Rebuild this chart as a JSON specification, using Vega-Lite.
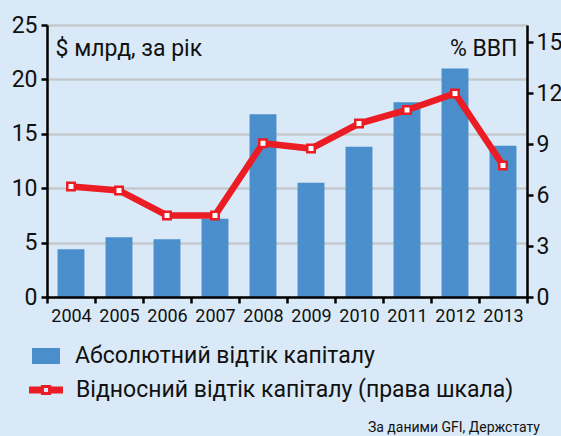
{
  "$schema": "https://vega.github.io/schema/vega-lite/v6.json",
  "width": 480,
  "height": 272,
  "autosize": "none",
  "padding": {"left": 47, "top": 25, "right": 34, "bottom": 139},
  "background": "#d9e9f7",
  "config": {
    "view": {"stroke": null},
    "font": "Roboto",
    "axis": {"domainColor": "#000000", "domainWidth": 2.5, "tickColor": "#000000", "tickWidth": 2.5, "labelColor": "#111111", "titleColor": "#111111", "titleFontWeight": "normal"},
    "legend": {"padding": 0, "labelColor": "#111111", "labelFont": "Roboto", "labelFontSize": 23, "labelLimit": 0, "title": null}
  },
  "title": {"text": "За даними GFI, Держстату", "orient": "bottom", "anchor": "end", "frame": "group", "fontSize": 14, "fontWeight": "normal", "color": "#111111", "offset": 19, "dx": 13},
  "data": {"values": [
    {"year": "2004", "abs": 4.4, "rel": 6.5},
    {"year": "2005", "abs": 5.5, "rel": 6.27},
    {"year": "2006", "abs": 5.3, "rel": 4.8},
    {"year": "2007", "abs": 7.2, "rel": 4.8},
    {"year": "2008", "abs": 16.8, "rel": 9.05},
    {"year": "2009", "abs": 10.5, "rel": 8.73},
    {"year": "2010", "abs": 13.8, "rel": 10.2},
    {"year": "2011", "abs": 17.9, "rel": 11.0},
    {"year": "2012", "abs": 21.0, "rel": 11.97},
    {"year": "2013", "abs": 13.9, "rel": 7.74}
  ]},
  "encoding": {
    "x": {"field": "year", "type": "ordinal", "scale": {"paddingInner": 0, "paddingOuter": 0},
      "axis": {"title": null, "labelAngle": 0, "tickBand": "extent", "labelFontSize": 18, "tickSize": 6, "labelPadding": 4, "zindex": 2}}
  },
  "layer": [
    {
      "mark": {"type": "bar", "width": {"band": 0.56}},
      "encoding": {
        "y": {"field": "abs", "type": "quantitative", "scale": {"domain": [0, 25]},
          "axis": {"orient": "left", "values": [0, 5, 10, 15, 20, 25], "grid": true, "gridColor": "#c5c9cc", "gridWidth": 2.5, "labelFontSize": 23, "tickSize": 6, "labelPadding": 4, "zindex": 0,
            "title": "$ млрд, за рік", "titleAngle": 0, "titleX": 8, "titleY": 30, "titleAlign": "left", "titleBaseline": "alphabetic", "titleFontSize": 23}},
        "fill": {"datum": "Абсолютний відтік капіталу", "type": "nominal", "scale": {"range": ["#4a8ecc"]},
          "legend": {"orient": "none", "legendX": -15, "legendY": 317, "symbolType": "M-1,-0.571H1V0.571H-1Z", "symbolSize": 784, "symbolStrokeWidth": 0, "labelOffset": 15}}
      }
    },
    {
      "layer": [
        {
          "mark": {"type": "line", "strokeWidth": 6.5},
          "encoding": {
            "y": {"field": "rel", "type": "quantitative", "scale": {"domain": [0, 15]},
              "axis": {"orient": "right", "values": [0, 3, 6, 9, 12, 15], "grid": false, "labelFontSize": 23, "tickSize": 6, "labelPadding": 3, "zindex": 2,
                "title": "% ВВП", "titleAngle": 0, "titleX": -10, "titleY": 30, "titleAlign": "right", "titleBaseline": "alphabetic", "titleFontSize": 23}},
            "stroke": {"datum": "Відносний відтік капіталу (права шкала)", "type": "nominal", "scale": {"range": ["#ec1c24"]},
              "legend": {"orient": "none", "legendX": -18, "legendY": 348, "symbolType": "M-1,-0.2H-0.3V-0.3H0.3V-0.2H1V0.2H0.3V0.3H-0.3V0.2H-1Z M-0.12,-0.12V0.12H0.12V-0.12Z", "symbolSize": 1156, "symbolFillColor": "#ec1c24", "symbolStrokeWidth": 0, "labelOffset": 13,
                "encode": {"symbols": {"update": {"fill": {"value": "#ec1c24"}, "strokeWidth": {"value": 0}}}}}}
          }
        },
        {
          "mark": {"type": "point", "shape": "square", "filled": true, "fill": "#ffffff", "stroke": "#ec1c24", "strokeWidth": 2.5, "size": 56, "opacity": 1},
          "encoding": {"y": {"field": "rel", "type": "quantitative"}}
        }
      ]
    }
  ],
  "resolve": {"scale": {"y": "independent"}}
}
